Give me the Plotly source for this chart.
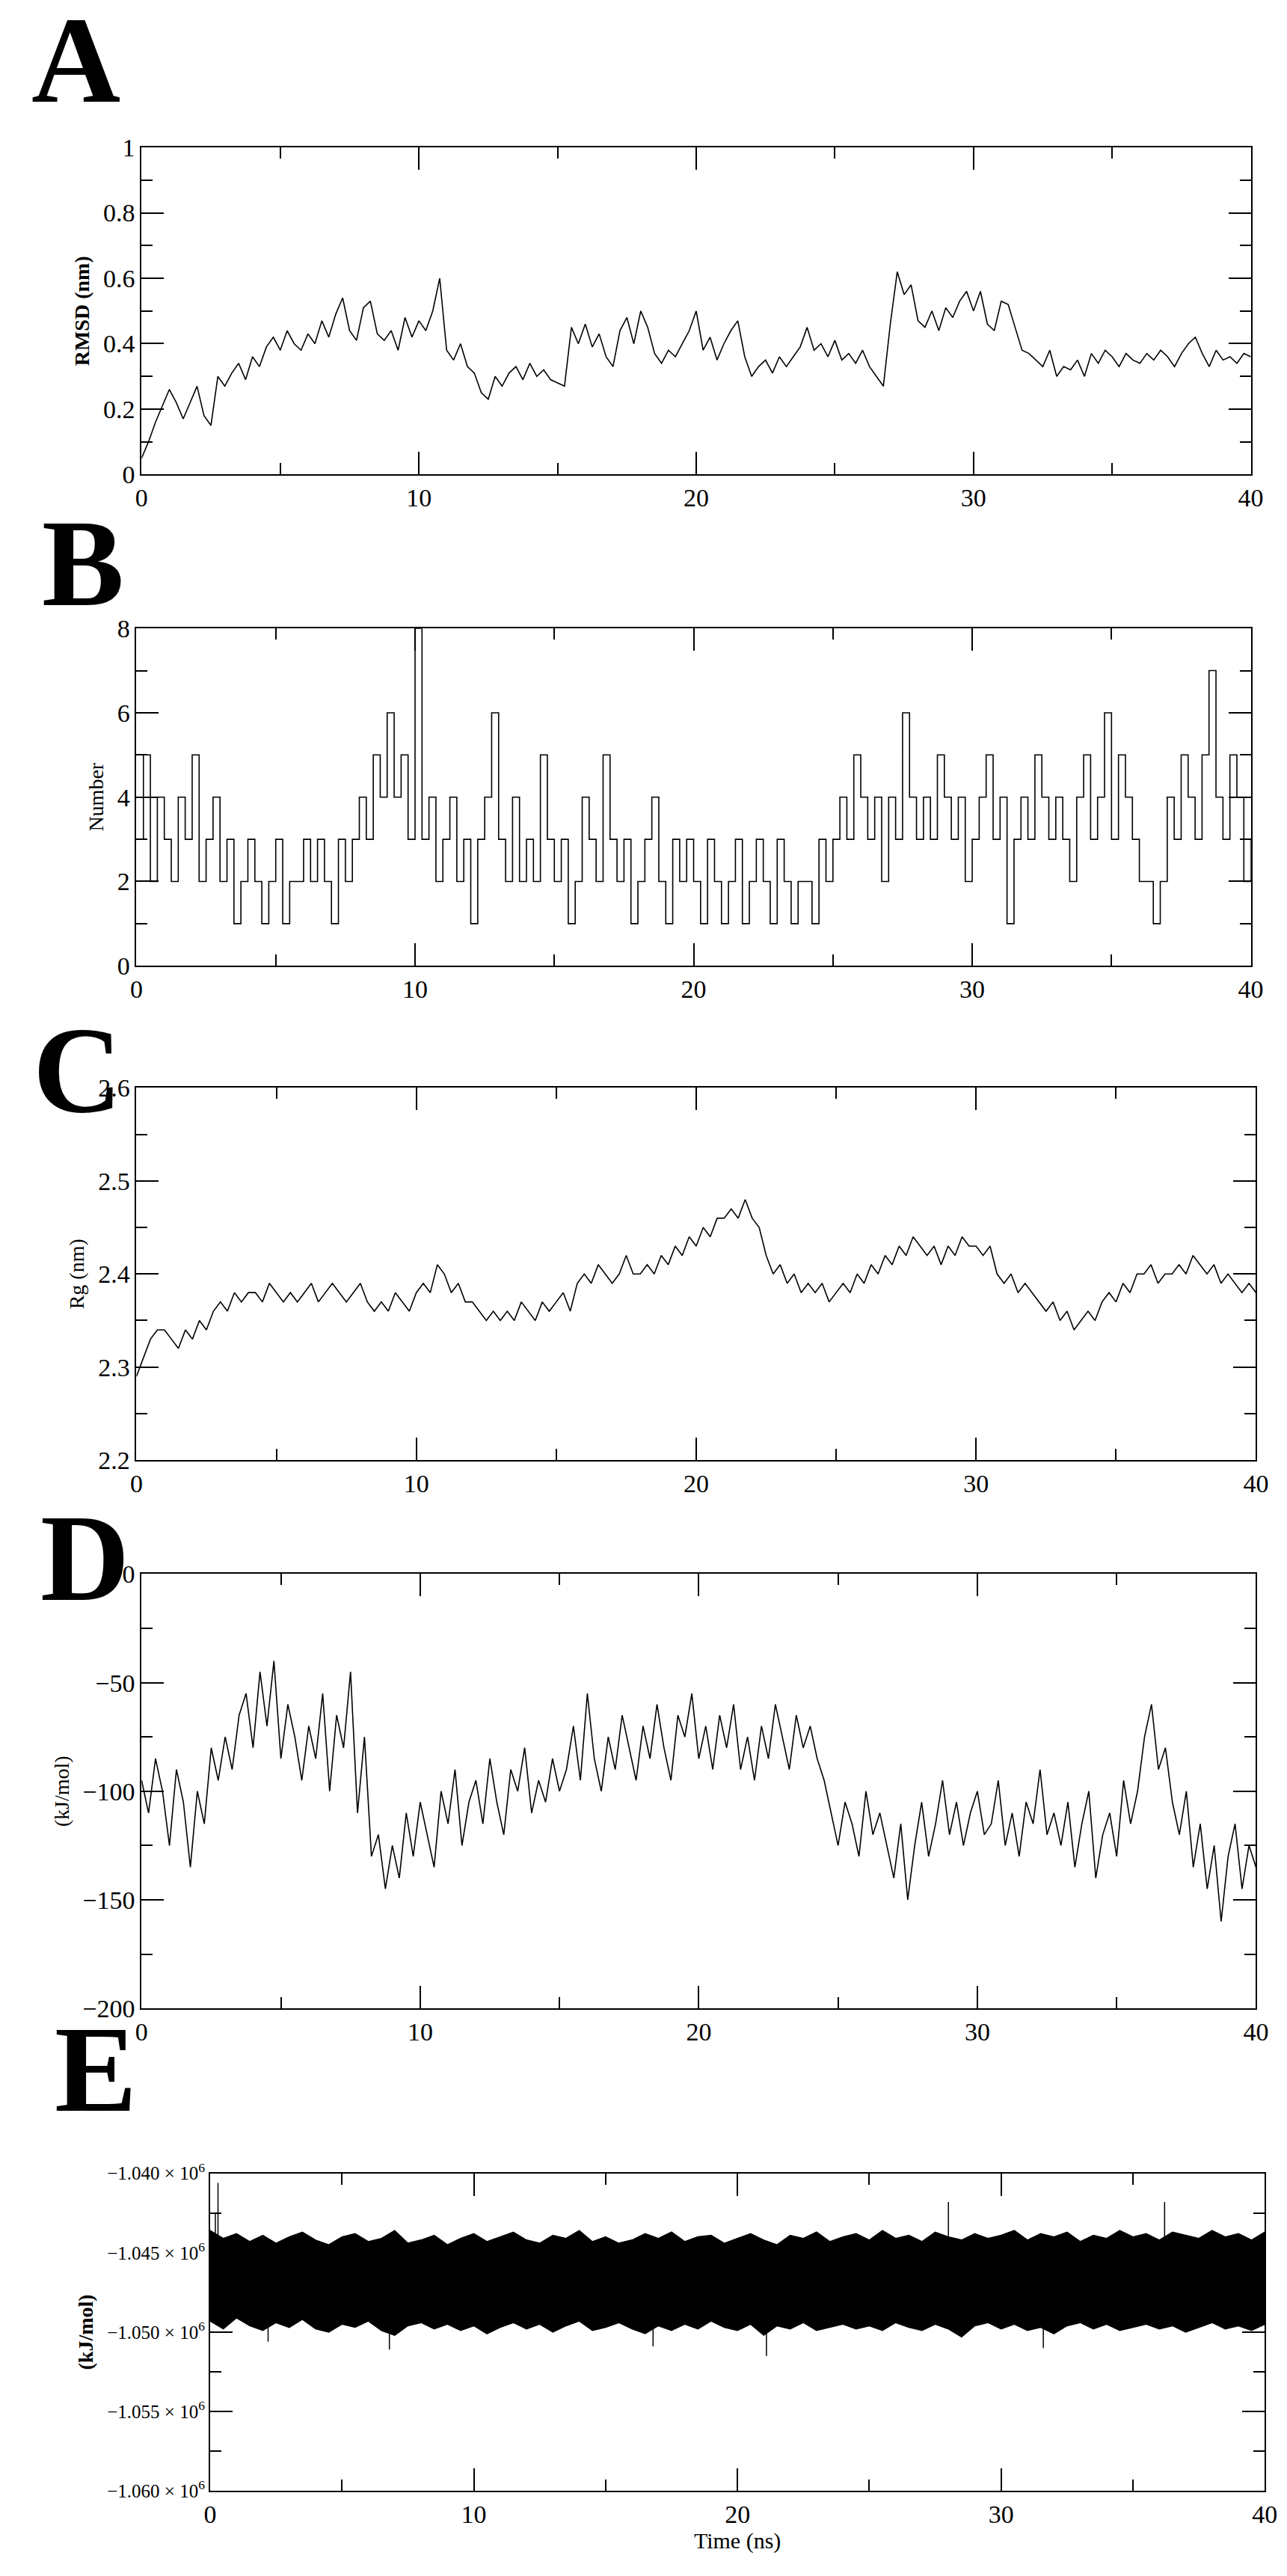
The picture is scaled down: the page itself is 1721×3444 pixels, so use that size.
import plotly.graph_objects as go

W, H = 1721, 3444
t_step = 0.25
time_ns = [i * t_step for i in range(161)]

rmsd_nm = [0.05,0.10,0.16,0.21,0.26,0.22,0.17,0.22,0.27,0.18,0.15,0.30,
           0.27,0.31,0.34,0.29,0.36,0.33,0.39,0.42,0.38,0.44,0.40,0.38,
           0.43,0.40,0.47,0.42,0.49,0.54,0.44,0.41,0.51,0.53,0.43,0.41,
           0.44,0.38,0.48,0.42,0.47,0.44,0.50,0.60,0.38,0.35,0.40,0.33,
           0.31,0.25,0.23,0.30,0.27,0.31,0.33,0.29,0.34,0.30,0.32,0.29,
           0.28,0.27,0.45,0.40,0.46,0.39,0.43,0.36,0.33,0.44,0.48,0.40,
           0.50,0.45,0.37,0.34,0.38,0.36,0.40,0.44,0.50,0.38,0.42,0.35,
           0.40,0.44,0.47,0.36,0.30,0.33,0.35,0.31,0.36,0.33,0.36,0.39,
           0.45,0.38,0.40,0.36,0.41,0.35,0.37,0.34,0.38,0.33,0.30,0.27,
           0.46,0.62,0.55,0.58,0.47,0.45,0.50,0.44,0.51,0.48,0.53,0.56,
           0.50,0.56,0.46,0.44,0.53,0.52,0.45,0.38,0.37,0.35,0.33,0.38,
           0.30,0.33,0.32,0.35,0.30,0.37,0.34,0.38,0.36,0.33,0.37,0.35,
           0.34,0.37,0.35,0.38,0.36,0.33,0.37,0.40,0.42,0.37,0.33,0.38,
           0.35,0.36,0.34,0.37,0.36]

hbond_number = [3,5,2,4,3,2,4,3,5,2,3,4,
                2,3,1,2,3,2,1,2,3,1,2,2,
                3,2,3,2,1,3,2,3,4,3,5,4,
                6,4,5,3,8,3,4,2,3,4,2,3,
                1,3,4,6,3,2,4,2,3,2,5,3,
                2,3,1,2,4,3,2,5,3,2,3,1,
                2,3,4,2,1,3,2,3,2,1,3,2,
                1,2,3,1,2,3,2,1,3,2,1,2,
                2,1,3,2,3,4,3,5,4,3,4,2,
                4,3,6,4,3,4,3,5,4,3,4,2,
                3,4,5,3,4,1,3,4,3,5,4,3,
                4,3,2,4,5,3,4,6,3,5,4,3,
                2,2,1,2,4,3,5,4,3,5,7,4,
                3,5,4,2,3]

rg_nm = [2.29,2.31,2.33,2.34,2.34,2.33,2.32,2.34,2.33,2.35,2.34,2.36,
         2.37,2.36,2.38,2.37,2.38,2.38,2.37,2.39,2.38,2.37,2.38,2.37,
         2.38,2.39,2.37,2.38,2.39,2.38,2.37,2.38,2.39,2.37,2.36,2.37,
         2.36,2.38,2.37,2.36,2.38,2.39,2.38,2.41,2.40,2.38,2.39,2.37,
         2.37,2.36,2.35,2.36,2.35,2.36,2.35,2.37,2.36,2.35,2.37,2.36,
         2.37,2.38,2.36,2.39,2.40,2.39,2.41,2.40,2.39,2.40,2.42,2.40,
         2.40,2.41,2.40,2.42,2.41,2.43,2.42,2.44,2.43,2.45,2.44,2.46,
         2.46,2.47,2.46,2.48,2.46,2.45,2.42,2.40,2.41,2.39,2.40,2.38,
         2.39,2.38,2.39,2.37,2.38,2.39,2.38,2.40,2.39,2.41,2.40,2.42,
         2.41,2.43,2.42,2.44,2.43,2.42,2.43,2.41,2.43,2.42,2.44,2.43,
         2.43,2.42,2.43,2.40,2.39,2.40,2.38,2.39,2.38,2.37,2.36,2.37,
         2.35,2.36,2.34,2.35,2.36,2.35,2.37,2.38,2.37,2.39,2.38,2.40,
         2.40,2.41,2.39,2.40,2.40,2.41,2.40,2.42,2.41,2.40,2.41,2.39,
         2.40,2.39,2.38,2.39,2.38]

inter_energy = [-95,-110,-85,-100,-125,-90,-105,-135,-100,-115,-80,-95,
                -75,-90,-65,-55,-80,-45,-70,-40,-85,-60,-75,-95,
                -70,-85,-55,-100,-65,-80,-45,-110,-75,-130,-120,-145,
                -125,-140,-110,-130,-105,-120,-135,-100,-115,-90,-125,-105,
                -95,-115,-85,-105,-120,-90,-100,-80,-110,-95,-105,-85,
                -100,-90,-70,-95,-55,-85,-100,-75,-90,-65,-80,-95,
                -70,-85,-60,-80,-95,-65,-75,-55,-85,-70,-90,-65,
                -80,-60,-90,-75,-95,-70,-85,-60,-75,-90,-65,-80,
                -70,-85,-95,-110,-125,-105,-115,-130,-100,-120,-110,-125,
                -140,-115,-150,-125,-105,-130,-115,-95,-120,-105,-125,-110,
                -100,-120,-115,-95,-125,-110,-130,-105,-115,-90,-120,-110,
                -125,-105,-135,-115,-100,-140,-120,-110,-130,-95,-115,-100,
                -75,-60,-90,-80,-105,-120,-100,-135,-115,-145,-125,-160,
                -130,-115,-145,-125,-135]

# total energy band (kJ/mol, in thousands) sampled every 0.5 ns
env_time = [i * 0.5 for i in range(81)]
e_upper_k = [-1043.6,-1044.1,-1043.8,-1044.3,-1043.9,-1044.4,-1044.0,-1043.7,-1044.2,-1044.5,
             -1044.0,-1043.8,-1044.3,-1044.1,-1043.6,-1044.4,-1044.2,-1043.9,-1044.5,-1044.1,
             -1043.8,-1044.3,-1044.0,-1043.7,-1044.2,-1044.4,-1043.9,-1044.1,-1043.6,-1044.3,
             -1044.0,-1044.4,-1044.2,-1043.8,-1044.1,-1043.7,-1044.3,-1044.0,-1043.9,-1044.4,
             -1044.1,-1043.8,-1044.2,-1044.5,-1043.9,-1044.1,-1043.7,-1044.3,-1044.0,-1043.8,
             -1044.2,-1043.6,-1044.1,-1043.9,-1044.3,-1043.7,-1044.0,-1044.2,-1043.8,-1044.1,
             -1043.9,-1043.6,-1044.2,-1043.8,-1044.0,-1043.7,-1044.3,-1043.9,-1044.1,-1043.6,
             -1044.0,-1043.8,-1044.2,-1043.7,-1043.9,-1044.1,-1043.6,-1044.0,-1043.8,-1044.2,-1043.7]
e_lower_k = [-1049.3,-1049.8,-1049.1,-1049.6,-1049.9,-1049.4,-1049.7,-1049.2,-1049.8,-1050.0,
             -1049.5,-1049.7,-1049.3,-1049.9,-1050.2,-1049.6,-1049.4,-1049.8,-1049.5,-1049.9,
             -1049.6,-1050.1,-1049.7,-1049.4,-1049.8,-1049.5,-1050.0,-1049.6,-1049.3,-1049.9,
             -1049.7,-1049.4,-1049.8,-1050.1,-1049.6,-1049.9,-1049.5,-1049.8,-1049.3,-1049.7,
             -1049.9,-1049.5,-1050.2,-1049.6,-1049.8,-1049.4,-1049.9,-1049.7,-1049.5,-1049.8,
             -1049.6,-1049.9,-1049.4,-1049.7,-1049.9,-1049.5,-1049.8,-1050.3,-1049.6,-1049.4,
             -1049.8,-1049.5,-1049.9,-1049.7,-1050.1,-1049.6,-1049.4,-1049.8,-1049.5,-1049.9,
             -1049.7,-1049.5,-1049.8,-1049.6,-1050.0,-1049.7,-1049.4,-1049.8,-1049.6,-1049.9,-1049.5]
spike_time = [0.2, 0.3, 2.2, 6.8, 16.8, 21.1, 28.0, 31.6, 36.2]
spike_k = [-1042.5, -1040.6, -1050.6, -1051.1, -1050.9, -1051.5, -1041.8, -1051.0, -1041.8]
e_ticks_k = [-1040, -1045, -1050, -1055, -1060]

FONT = "Liberation Serif"

def dom_y(top, bot):
    return [1 - bot / H, 1 - top / H]

panels = [
    dict(letter="A", x=(175, 1681), y=(173, 615), rng=[0, 1], dt=0.2, mdt=0.1,
         title="RMSD (nm)", bold=True, lx=86, ly=55),
    dict(letter="B", x=(168, 1681), y=(823, 1279), rng=[0, 8], dt=2, mdt=1,
         title="Number", bold=False, lx=95, ly=735),
    dict(letter="C", x=(168, 1688), y=(1444, 1947), rng=[2.2, 2.6], dt=0.1, mdt=0.05,
         title="Rg (nm)", bold=False, lx=88, ly=1420),
    dict(letter="D", x=(175, 1688), y=(2101, 2688), rng=[-200, 0], dt=50, mdt=25,
         title="(kJ/mol)", bold=False, lx=98, ly=2080),
    dict(letter="E", x=(268, 1700), y=(2911, 3340), rng=[-1060000, -1040000], dt=5000, mdt=2500,
         title="(kJ/mol)", bold=True, lx=113, ly=2770),
]

fig = go.Figure()
line = dict(color="black", width=1.6)
fig.add_trace(go.Scatter(x=time_ns, y=rmsd_nm, mode="lines", line=line, xaxis="x", yaxis="y"))
fig.add_trace(go.Scatter(x=time_ns, y=hbond_number, mode="lines", line=dict(color="black", width=1.6, shape="hv"),
                         xaxis="x2", yaxis="y2"))
fig.add_trace(go.Scatter(x=time_ns, y=rg_nm, mode="lines", line=line, xaxis="x3", yaxis="y3"))
fig.add_trace(go.Scatter(x=time_ns, y=inter_energy, mode="lines", line=line, xaxis="x4", yaxis="y4"))

e_up = [v * 1000 for v in e_upper_k]
e_lo = [v * 1000 for v in e_lower_k]
fig.add_trace(go.Scatter(x=env_time, y=e_up, mode="lines", line=dict(color="black", width=1.5),
                         xaxis="x5", yaxis="y5"))
fig.add_trace(go.Scatter(x=env_time, y=e_lo, mode="lines", line=dict(color="black", width=1.5),
                         fill="tonexty", fillcolor="black", xaxis="x5", yaxis="y5"))
sx, sy = [], []
for t, v in zip(spike_time, spike_k):
    sx += [t, t, None]
    sy += [-1047000, v * 1000, None]
fig.add_trace(go.Scatter(x=sx, y=sy, mode="lines", line=dict(color="black", width=1.5),
                         xaxis="x5", yaxis="y5"))

layout = dict(width=W, height=H, margin=dict(l=0, r=0, t=0, b=0), showlegend=False,
              plot_bgcolor="white", paper_bgcolor="white", font=dict(family=FONT, color="black"))
annotations = []
for i, p in enumerate(panels):
    n = "" if i == 0 else str(i + 1)
    common = dict(showline=True, linecolor="black", linewidth=2, mirror="allticks",
                  ticks="inside", ticklen=30, tickwidth=2, tickcolor="black",
                  showgrid=False, zeroline=False)
    xa = dict(common, domain=[p["x"][0] / W, p["x"][1] / W], range=[0, 40], dtick=10, anchor="y" + n,
              tickfont=dict(size=34, family=FONT),
              minor=dict(dtick=5, ticks="inside", ticklen=15, tickwidth=2, tickcolor="black"))
    ya = dict(common, domain=dom_y(*p["y"]), range=p["rng"], anchor="x" + n,
              minor=dict(dtick=p["mdt"], ticks="inside", ticklen=15, tickwidth=2, tickcolor="black"))
    title_txt = "<b>%s</b>" % p["title"] if p["bold"] else p["title"]
    ya["title"] = dict(text=title_txt, font=dict(size=28, family=FONT), standoff=10)
    if p["letter"] == "E":
        ya["tickvals"] = [v * 1000 for v in e_ticks_k]
        ya["ticktext"] = ["\u2212%.3f \u00d7 10<sup>6</sup>" % (-v / 1000) for v in e_ticks_k]
        ya["tickfont"] = dict(size=25, family=FONT)
        xa["title"] = dict(text="Time (ns)", font=dict(size=30, family=FONT), standoff=5)
    else:
        ya["dtick"] = p["dt"]
        ya["tickfont"] = dict(size=34, family=FONT)
    layout["xaxis" + n] = xa
    layout["yaxis" + n] = ya
    annotations.append(dict(text="<b>%s</b>" % p["letter"], x=p["lx"] / W, y=1 - p["ly"] / H,
                            xref="paper", yref="paper", xanchor="center", yanchor="middle",
                            showarrow=False, font=dict(size=165, family=FONT, color="black")))
layout["annotations"] = annotations
fig.update_layout(**layout)

fig.write_html("out.html")
